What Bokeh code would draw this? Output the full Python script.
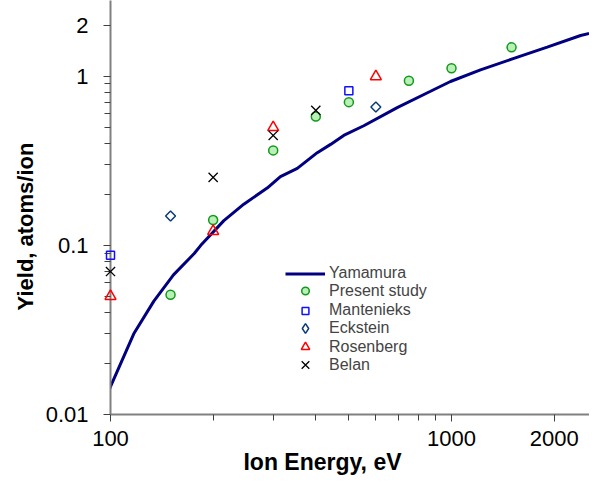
import numpy as np
from bokeh.plotting import figure
from bokeh.models import FixedTicker, CustomJSTickFormatter, Legend, LegendItem
from bokeh.core.properties import value
from bokeh.embed import file_html
from bokeh.resources import INLINE

yam_x = [97, 100, 117, 134, 153, 176, 184, 215, 246, 288, 315, 353, 404, 442,
         483, 553, 693, 868, 993, 1216, 1524, 1908, 2391, 2820]
yam_y = [0.0124, 0.0146, 0.030, 0.0468, 0.0669, 0.0894, 0.100, 0.140, 0.175,
         0.218, 0.255, 0.285, 0.353, 0.395, 0.446, 0.509, 0.652, 0.814, 0.930,
         1.088, 1.273, 1.486, 1.739, 1.876]

present_x = [150, 200, 300, 400, 500, 750, 1000, 1500]
present_y = [0.051, 0.141, 0.364, 0.578, 0.702, 0.939, 1.113, 1.48]

mant_x = [100, 500]
mant_y = [0.0875, 0.821]

eck_x = [150, 600]
eck_y = [0.149, 0.657]

rosen_x = [100, 200, 300, 600]
rosen_y = [0.050, 0.121, 0.498, 0.995]

belan_x = [100, 200, 300, 400]
belan_y = [0.070, 0.252, 0.446, 0.628]

series_names = ["Yamamura", "Present study", "Mantenieks", "Eckstein",
                "Rosenberg", "Belan"]
x_title = "Ion Energy, eV"
y_title = "Yield, atoms/ion"

x_major = [100, 1000, 2000]
x_minor = [200, 300, 400, 500, 600, 700, 800, 900]
y_major = [0.01, 0.1, 1, 2]
y_minor = [0.02, 0.03, 0.04, 0.05, 0.06, 0.07, 0.08, 0.09,
           0.2, 0.3, 0.4, 0.5, 0.6, 0.7, 0.8, 0.9]

X0, X1 = 100, 2539
Y0, Y1 = 0.01, 2.8

FONT = "Liberation Sans"
FRAME_BOTTOM = 414

p = figure(width=589, height=475, x_axis_type="log", y_axis_type="log",
           x_range=(X0, X1), y_range=(Y0, Y1),
           output_backend="svg", toolbar_location=None,
           min_border_left=110, min_border_right=0, min_border_top=0,
           min_border_bottom=475 - FRAME_BOTTOM)
p.outline_line_color = None
p.grid.visible = False
p.background_fill_color = "white"
p.border_fill_color = "white"

fmt = CustomJSTickFormatter(code="return String(tick)")

for ax, major, minor in ((p.xaxis[0], x_major, x_minor), (p.yaxis[0], y_major, y_minor)):
    ax.ticker = FixedTicker(ticks=major, minor_ticks=minor)
    ax.formatter = fmt
    ax.axis_line_color = "#808080"
    ax.axis_line_width = 2
    ax.major_tick_line_color = "#404040"
    ax.minor_tick_line_color = "#404040"
    ax.major_tick_in = 0
    ax.minor_tick_in = 0
    ax.major_tick_out = 7
    ax.minor_tick_out = 6
    ax.major_label_text_font = FONT
    ax.major_label_text_font_size = "22px"
    ax.major_label_text_color = "black"

p.xaxis.major_label_standoff = 9
p.yaxis.major_label_standoff = 15

# axis titles: anchored at the axes' origin, offset in pixels
p.text(x=[X0], y=[Y0], text=[x_title], x_offset=212, y_offset=60,
       text_font=value(FONT), text_font_size="23px", text_font_style="bold",
       text_color="black", text_align="center", text_baseline="bottom",
       level="overlay")
p.text(x=[X0], y=[Y0], text=[y_title], x_offset=-85, y_offset=-188,
       angle=np.pi / 2,
       text_font=value(FONT), text_font_size="22px", text_font_style="bold",
       text_color="black", text_align="center", text_baseline="middle",
       level="overlay")

r_yam = p.line(yam_x, yam_y, line_color="#000080", line_width=3)
r_pres = p.scatter(present_x, present_y, marker="circle", size=9,
                   fill_color="#B8F0B8", line_color="#11991A", line_width=1.5,
                   level="overlay")
r_mant = p.scatter(mant_x, mant_y, marker="square", size=8, fill_color=None,
                   line_color="#1010FF", line_width=1.5, level="overlay")
r_eck = p.scatter(eck_x, eck_y, marker="square", angle=np.pi / 4, size=7,
                  fill_color=None, line_color="#0A3A78", line_width=1.5,
                  level="overlay")
r_eck_leg = p.scatter(eck_x, eck_y, marker="diamond", size=10, fill_color=None,
                      line_color="#0A3A78", line_width=1.5, visible=False)
r_ros = p.scatter(rosen_x, rosen_y, marker="triangle", size=11, fill_color=None,
                  line_color="#FF0000", line_width=1.5, level="overlay")
r_bel = p.scatter(belan_x, belan_y, marker="x", size=13, line_color="black",
                  line_width=1.3, level="overlay")

# one legend per entry so that rows can sit as tightly as in the reference
legend_renderers = [r_yam, r_pres, r_mant, r_eck_leg, r_ros, r_bel]
ROW_STEP = 18.5
LEG_MID = 318.3                                   # px from top
row_centers = [LEG_MID + (i - 2.5) * ROW_STEP for i in range(6)]
glyph_heights = [17, 19, 17, 24, 21, 27]
TEXT_H = 19
for name, rend, cy, gh in zip(series_names, legend_renderers, row_centers, glyph_heights):
    h = max(gh, TEXT_H)
    lg = Legend(items=[LegendItem(label=name, renderers=[rend])],
                location=(175, round(FRAME_BOTTOM - cy - h / 2)),
                padding=0, margin=0, spacing=0,
                border_line_color=None, background_fill_alpha=0,
                inactive_fill_alpha=0,
                glyph_width=40, glyph_height=gh, label_height=16,
                label_standoff=4,
                label_text_font=FONT, label_text_font_size="16px")
    p.add_layout(lg)

open("out.html", "w").write(file_html(p, INLINE))
